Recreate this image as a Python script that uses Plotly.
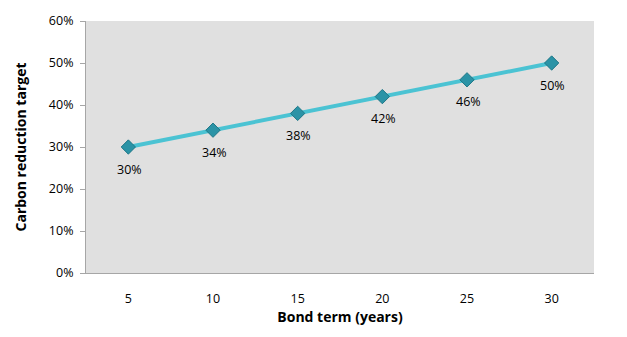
import plotly.graph_objects as go

# Bond term (years) and the matching carbon reduction target
bond_terms = [5, 10, 15, 20, 25, 30]
reduction_target = [0.30, 0.34, 0.38, 0.42, 0.46, 0.50]
point_labels = ["30%", "34%", "38%", "42%", "46%", "50%"]

y_ticks = [0, 0.1, 0.2, 0.3, 0.4, 0.5, 0.6]
y_tick_text = ["0%", "10%", "20%", "30%", "40%", "50%", "60%"]

font_family = "Open Sans, Liberation Sans, sans-serif"

fig = go.Figure()
fig.add_trace(go.Scatter(
    x=bond_terms,
    y=reduction_target,
    mode="lines+markers",
    line=dict(color="#4BC3D3", width=4),
    marker=dict(symbol="diamond", size=11, color="#2B93A6",
                line=dict(color="#1E7787", width=1)),
    cliponaxis=False,
    hoverinfo="skip",
))

# Value labels sit below each point
for xv, yv, lbl in zip(bond_terms, reduction_target, point_labels):
    fig.add_annotation(
        x=xv, y=yv, text=lbl, showarrow=False,
        yshift=-22, xshift=1,
        font=dict(family=font_family, size=12.5, color="#000000"),
    )

fig.update_layout(
    width=627,
    height=337,
    margin=dict(l=86, r=33, t=16, b=64),
    paper_bgcolor="#FFFFFF",
    plot_bgcolor="#E0E0E0",
    showlegend=False,
    font=dict(family=font_family, size=12.5, color="#000000"),
    xaxis=dict(
        range=[2.5, 32.5],
        tickmode="array",
        tickvals=bond_terms,
        ticktext=[str(v) for v in bond_terms],
        showgrid=False,
        zeroline=False,
        showline=True,
        linecolor="#A6A6A6",
        linewidth=1,
        ticks="",
        ticklabelstandoff=14,
        title=dict(text="<b>Bond term (years)</b>",
                   font=dict(family=font_family, size=14, color="#000000"),
                   standoff=3),
        fixedrange=True,
    ),
    yaxis=dict(
        range=[0, 0.6],
        tickmode="array",
        tickvals=y_ticks,
        ticktext=y_tick_text,
        showgrid=False,
        zeroline=False,
        showline=True,
        linecolor="#A6A6A6",
        linewidth=1,
        ticks="outside",
        ticklen=5,
        tickcolor="#A6A6A6",
        ticklabelstandoff=4,
        title=dict(text="<b>Carbon reduction target</b>",
                   font=dict(family=font_family, size=14, color="#000000"),
                   standoff=18),
        fixedrange=True,
    ),
)

fig.write_html("out.html")
